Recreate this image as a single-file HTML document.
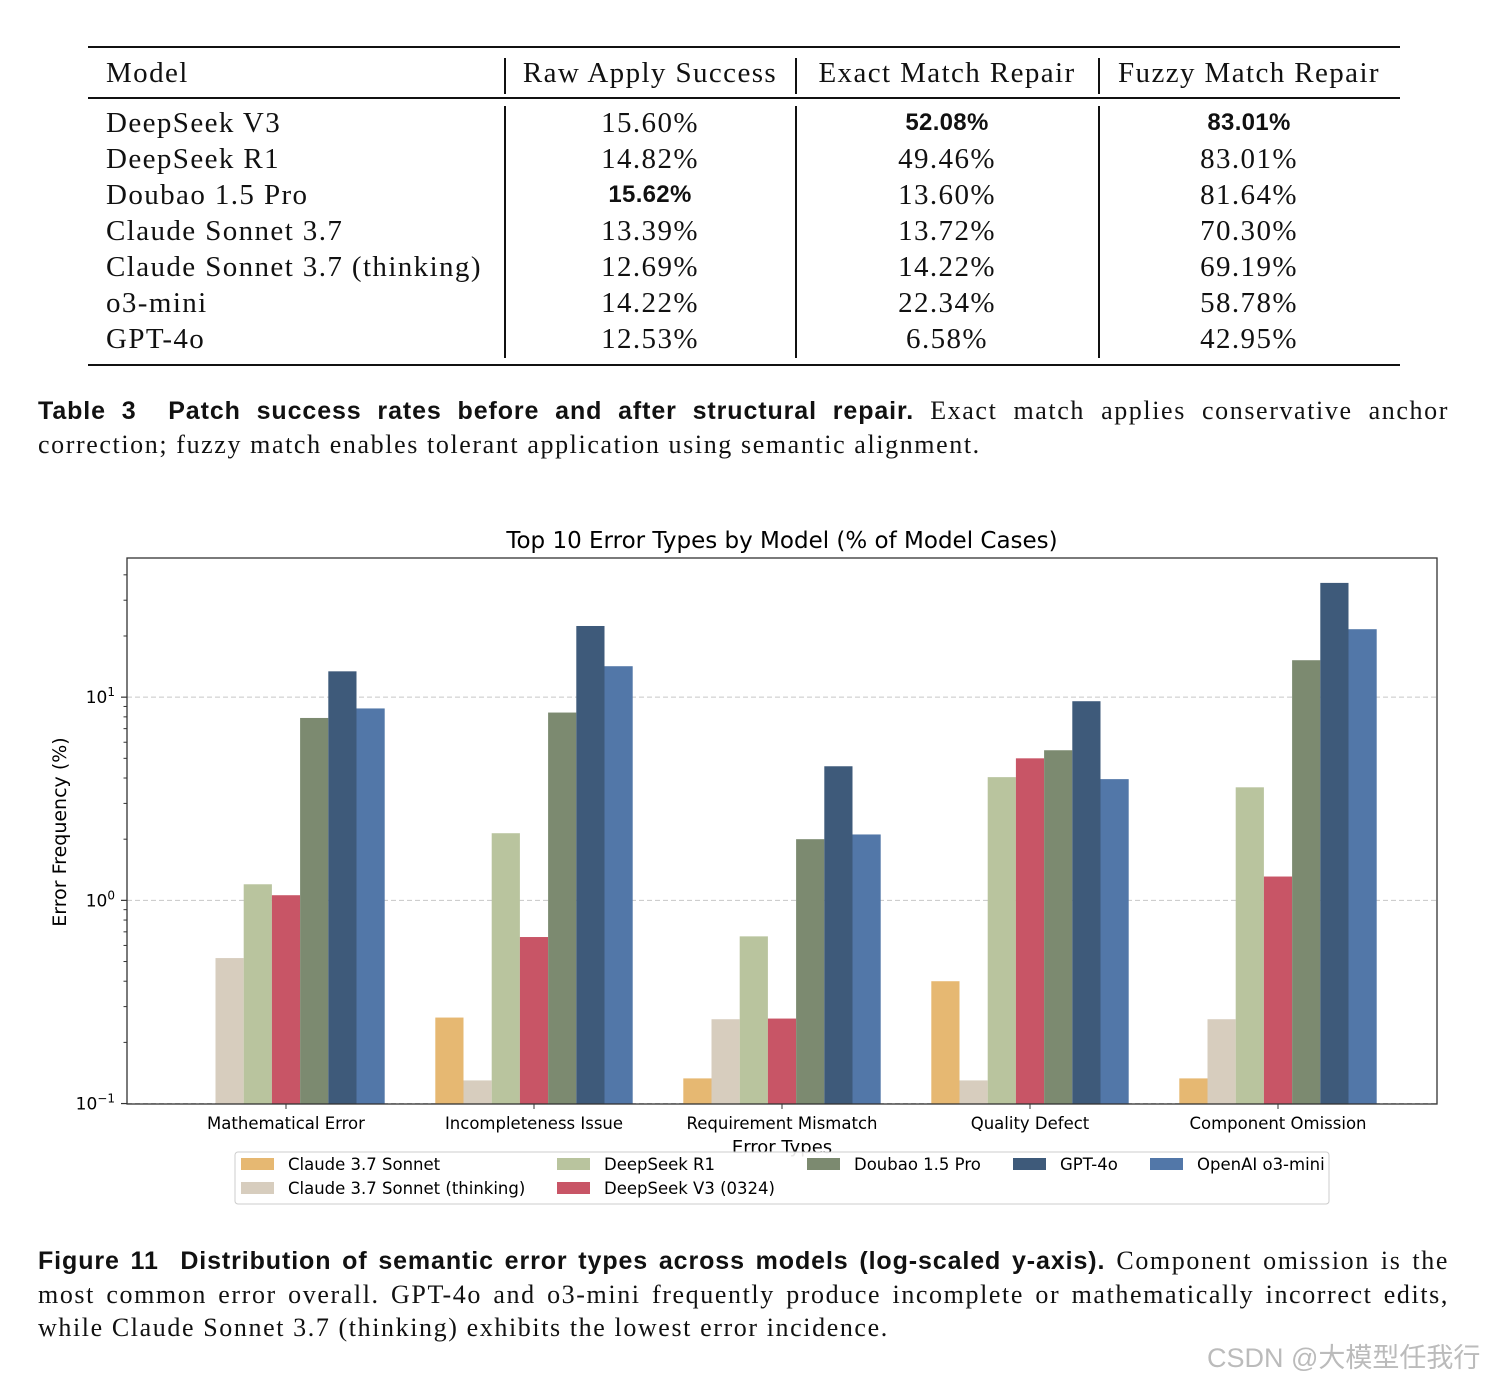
<!DOCTYPE html>
<html><head><meta charset="utf-8">
<style>
body{margin:0;width:1490px;height:1380px;background:#fff;position:relative;overflow:hidden;font-family:"Liberation Serif",serif;color:#111}
.abs{position:absolute}
.rule{position:absolute;left:88px;width:1312px;background:#111}
.vl{position:absolute;width:1.5px;background:#111}
.cell{position:absolute;font-size:29px;line-height:36px;white-space:nowrap;letter-spacing:1.4px}
.c{transform:translateX(-50%)}
.b{font-family:"Liberation Sans",sans-serif;font-weight:bold;font-size:24px;letter-spacing:0.3px}
.cap{position:absolute;left:38px;width:1411px;font-size:26px;line-height:33px;letter-spacing:1.6px}
.ln{display:block;text-align:justify;text-align-last:justify;white-space:nowrap}
.last{text-align-last:left}
.bs{font-family:"Liberation Sans",sans-serif;font-weight:bold;font-size:25px;letter-spacing:0.9px}
</style></head><body>
<div>
<div class="rule" style="top:46px;height:2px"></div>
<div class="rule" style="top:97px;height:1.5px"></div>
<div class="rule" style="top:364px;height:2px"></div>
<div class="vl" style="left:504px;top:58px;height:36px"></div>
<div class="vl" style="left:795px;top:58px;height:36px"></div>
<div class="vl" style="left:1098px;top:58px;height:36px"></div>
<div class="vl" style="left:504px;top:106px;height:252px"></div>
<div class="vl" style="left:795px;top:106px;height:252px"></div>
<div class="vl" style="left:1098px;top:106px;height:252px"></div>
<div class="cell" style="left:106px;top:55px">Model</div>
<div class="cell c" style="left:650px;top:55px">Raw Apply Success</div>
<div class="cell c" style="left:947px;top:55px">Exact Match Repair</div>
<div class="cell c" style="left:1249px;top:55px">Fuzzy Match Repair</div>
<div id="rows"></div>
</div>
<div class="cap" style="top:394px">
<span class="ln"><span class="bs">Table 3&nbsp;&nbsp;Patch success rates before and after structural repair.</span> Exact match applies conservative anchor</span>
<span class="ln last">correction; fuzzy match enables tolerant application using semantic alignment.</span>
</div>
<svg class="abs" style="left:0;top:520px" width="1490" height="700" id="chart" font-family="DejaVu Sans, Liberation Sans, sans-serif"></svg>
<div class="cap" style="top:1244px">
<span class="ln"><span class="bs">Figure 11&nbsp;&nbsp;Distribution of semantic error types across models (log-scaled y-axis).</span> Component omission is the</span>
<span class="ln">most common error overall. GPT-4o and o3-mini frequently produce incomplete or mathematically incorrect edits,</span>
<span class="ln last">while Claude Sonnet 3.7 (thinking) exhibits the lowest error incidence.</span>
</div>
<div class="abs" style="left:1207px;top:1336px;font-size:27px;color:#bbb;font-family:'Liberation Sans','Noto Sans CJK SC',sans-serif">CSDN @大模型任我行</div>
<script>
const models=["DeepSeek V3","DeepSeek R1","Doubao 1.5 Pro","Claude Sonnet 3.7","Claude Sonnet 3.7 (thinking)","o3-mini","GPT-4o"];
const rawApply=["15.60%","14.82%","15.62%","13.39%","12.69%","14.22%","12.53%"];
const exactMatch=["52.08%","49.46%","13.60%","13.72%","14.22%","22.34%","6.58%"];
const fuzzyMatch=["83.01%","83.01%","81.64%","70.30%","69.19%","58.78%","42.95%"];
const rows=document.getElementById('rows');
models.forEach((m,i)=>{
  const top=105+i*36;
  const vals=[[106,m,false],[650,rawApply[i],i==2],[947,exactMatch[i],i==0],[1249,fuzzyMatch[i],i==0]];
  vals.forEach((v,j)=>{
    const d=document.createElement('div');
    d.className='cell'+(j?' c':'')+(v[2]?' b':'');
    d.style.left=v[0]+'px';d.style.top=top+'px';
    d.textContent=v[1];
    
    
    rows.appendChild(d);
  });
});

const categories=["Mathematical Error","Incompleteness Issue","Requirement Mismatch","Quality Defect","Component Omission"];
const seriesNames=["Claude 3.7 Sonnet","Claude 3.7 Sonnet (thinking)","DeepSeek R1","DeepSeek V3 (0324)","Doubao 1.5 Pro","GPT-4o","OpenAI o3-mini"];
const seriesColors=["#e6b872","#d7cdbe","#b9c49e","#c85566","#7c8a70","#3e5a7a","#5277a8"];
const claude37=[0,0.265,0.133,0.40,0.133];
const claude37Thinking=[0.52,0.13,0.26,0.13,0.26];
const deepseekR1=[1.2,2.14,0.665,4.04,3.6];
const deepseekV3=[1.06,0.66,0.262,5.0,1.31];
const doubao=[7.9,8.4,2.0,5.48,15.2];
const gpt4o=[13.4,22.4,4.57,9.55,36.5];
const o3mini=[8.8,14.2,2.11,3.95,21.6];
const seriesValues=[claude37,claude37Thinking,deepseekR1,deepseekV3,doubao,gpt4o,o3mini];
const yTicks=[0.1,1,10];
const yTickLabels=["10","10","10"];
const yTickExp=["−1","0","1"];

const svg=document.getElementById('chart');const NS='http://www.w3.org/2000/svg';
const OY=520;
const L=127,R=1437,T=558-OY,B=1104-OY;
const yMin=Math.log10(0.0995),yMax=Math.log10(48.4);
const y=v=>B-(Math.log10(v)-yMin)/(yMax-yMin)*(B-T);
const gW=248,x0=286,bw=28.2;
const x=i=>x0+i*gW;
function el(t,a,p){const e=document.createElementNS(NS,t);for(const k in a)e.setAttribute(k,a[k]);(p||svg).appendChild(e);return e;}
let e;
e=el('text',{x:782,y:548-OY,'text-anchor':'middle','font-size':23});e.textContent="Top 10 Error Types by Model (% of Model Cases)";


yTicks.forEach((t,i)=>{
  const yy=y(t);
  e=el('line',{x1:L,x2:R,y1:yy,y2:yy,stroke:'#c8c8c8','stroke-dasharray':'5,3','stroke-width':1});
  
  
  el('line',{x1:L-6,x2:L,y1:yy,y2:yy,stroke:'#333','stroke-width':1.2});
  e=el('text',{x:L-12,y:yy+6,'text-anchor':'end','font-size':17});
  
  
  e.textContent=yTickLabels[i];
  const s=el('tspan',{dy:-7,'font-size':12},e);s.textContent=yTickExp[i];
});
for(let d=-1;d<=1;d++)for(let k=2;k<=9;k++){const v=k*Math.pow(10,d);if(v>48.4)break;const yy=y(v);el('line',{x1:L-3.5,x2:L,y1:yy,y2:yy,stroke:'#333','stroke-width':1});}
seriesValues.forEach((vals,s)=>{
  vals.forEach((v,c)=>{
    if(v<=0.0995)return;
    const cx=x(c)+(s-3)*bw;
    const r=el('rect',{x:cx-bw/2,y:y(v),width:bw,height:B-y(v),fill:seriesColors[s]});
    
    
  });
});
el('rect',{x:L,y:T,width:R-L,height:B-T,fill:'none',stroke:'#333','stroke-width':1.3});
categories.forEach((c,i)=>{
  el('line',{x1:x(i),x2:x(i),y1:B,y2:B+5,stroke:'#333'});
  e=el('text',{x:x(i),y:1129-OY,'text-anchor':'middle','font-size':16.5});e.textContent=c;
  
  
});
e=el('text',{x:782,y:1153-OY,'text-anchor':'middle','font-size':18});e.textContent="Error Types";


e=el('text',{x:0,y:0,'text-anchor':'middle','font-size':19,transform:`translate(66,${832-OY}) rotate(-90)`});e.textContent="Error Frequency (%)";


const lg=el('g',{});


el('rect',{x:235,y:1152-OY,width:1094,height:52,fill:'#fff','fill-opacity':0.9,stroke:'#ccc',rx:3},lg);
const lpos=[[241,1164],[241,1188],[557,1164],[557,1188],[807,1164],[1013,1164],[1150,1164]];
seriesNames.forEach((n,i)=>{
  const [lx,ly]=lpos[i];
  el('rect',{x:lx,y:ly-OY-6,width:33,height:12,fill:seriesColors[i]},lg);
  const t=el('text',{x:lx+47,y:ly-OY+6,'font-size':16.5},lg);t.textContent=n;
  
  
});
</script>
</body></html>
